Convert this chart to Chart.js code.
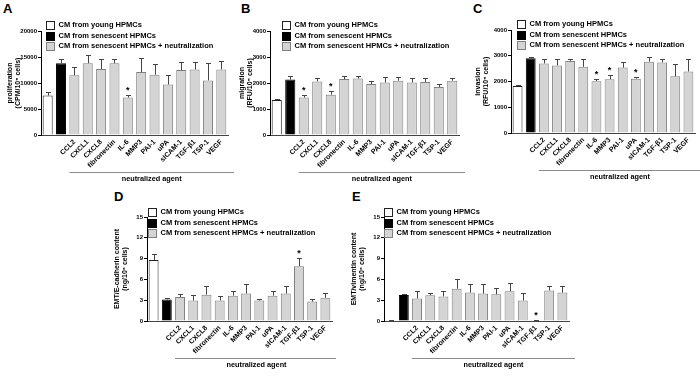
<!DOCTYPE html>
<html>
<head>
<meta charset="utf-8">
<script src="https://cdn.jsdelivr.net/npm/chart.js@4.4.1/dist/chart.umd.min.js"></script>
<style>
  html, body { margin: 0; padding: 0; background: #fff; }
  #fig { position: relative; width: 700px; height: 377px; overflow: hidden; font-family: 'Liberation Sans', Arial, sans-serif; }
  #fig canvas { position: absolute; }
  .tag { position: absolute; font-weight: bold; font-size: 13px; line-height: 1; color: #000; }
</style>
</head>
<body>
<div id="fig">
  <div class="tag" style="left:3px;top:2px">A</div>
  <div class="tag" style="left:241px;top:2px">B</div>
  <div class="tag" style="left:473px;top:2px">C</div>
  <div class="tag" style="left:114px;top:190px">D</div>
  <div class="tag" style="left:352px;top:190px">E</div>
  <canvas id="chart-a" width="236" height="185" style="left:0;top:0"></canvas>
  <canvas id="chart-b" width="234" height="185" style="left:236px;top:0"></canvas>
  <canvas id="chart-c" width="230" height="185" style="left:470px;top:0"></canvas>
  <canvas id="chart-d" width="236" height="192" style="left:100px;top:185px"></canvas>
  <canvas id="chart-e" width="240" height="192" style="left:336px;top:185px"></canvas>
</div>
<script>
/* ---------- Data ---------- */
var CATEGORIES = ['young', 'senescent', 'CCL2', 'CXCL1', 'CXCL8', 'fibronectin', 'IL-6', 'MMP3',
                  'PAI-1', 'uPA', 'sICAM-1', 'TGF-\u03B21', 'TSP-1', 'VEGF'];
var GROUP_LABELS = ['CM from young HPMCs', 'CM from senescent HPMCs', 'CM from senescent HPMCs + neutralization'];

var PROLIF_MEAN = [7600, 13800, 11500, 13800, 12700, 13800, 7200, 12100, 11600, 9700, 12500, 12600, 10500, 12600];
var PROLIF_ERR  = [600, 900, 1500, 1500, 2000, 900, 400, 2700, 2000, 1800, 1600, 1500, 3400, 1700];
var PROLIF_SIG  = ['IL-6'];

var MIGR_MEAN = [1350, 2130, 1440, 2060, 1550, 2150, 2170, 1960, 2020, 2090, 2020, 2040, 1850, 2090];
var MIGR_ERR  = [50, 150, 90, 140, 130, 120, 110, 100, 210, 160, 170, 160, 120, 100];
var MIGR_SIG  = ['CCL2', 'CXCL8'];

var INVAS_MEAN = [1830, 2900, 2700, 2620, 2800, 2570, 2010, 2090, 2540, 2110, 2770, 2740, 2200, 2390];
var INVAS_ERR  = [50, 50, 180, 260, 70, 310, 80, 160, 210, 50, 170, 140, 480, 500];
var INVAS_SIG  = ['IL-6', 'MMP3', 'uPA'];

var ECAD_MEAN = [8.8, 3.1, 3.45, 2.95, 3.8, 2.95, 3.65, 3.95, 2.95, 3.65, 3.95, 7.9, 2.8, 3.35];
var ECAD_ERR  = [0.8, 0.2, 0.45, 0.75, 1.3, 0.6, 0.7, 1.45, 0.25, 0.65, 1.15, 1.2, 0.4, 0.75];
var ECAD_SIG  = ['TGF-\u03B21'];

var VIM_MEAN = [0.08, 3.75, 3.25, 3.7, 3.55, 4.65, 4.1, 3.95, 3.85, 4.3, 2.95, 0.12, 4.4, 4.1];
var VIM_ERR  = [0.02, 0.2, 1.1, 0.4, 0.8, 1.45, 1.2, 1.35, 0.95, 1.2, 1.15, 0.02, 0.7, 0.9];
var VIM_SIG  = ['TGF-\u03B21'];

/* ---------- Styling ---------- */
var FONT = "'Liberation Sans', Arial, sans-serif";
var FILLS   = ['#ffffff', '#000000', '#d4d4d4'];
var BORDERS = ['#222222', '#000000', '#808080'];

Chart.defaults.font.family = FONT;
Chart.defaults.font.weight = 'bold';
Chart.defaults.color = '#000';

/* ---------- Plugins ---------- */
function topOf(chart, i) {
  var y = chart.scales.y;
  for (var d = 0; d < chart.data.datasets.length; d++) {
    var ds = chart.data.datasets[d];
    if (ds.data[i] != null) {
      var bar = chart.getDatasetMeta(d).data[i];
      return { x: bar.x, y: bar.y, top: y.getPixelForValue(ds.data[i] + ds.errors[i]) };
    }
  }
  return null;
}

var errorBars = {
  id: 'errorBars',
  afterDatasetsDraw: function (chart, args, opts) {
    var ctx = chart.ctx;
    ctx.save();
    ctx.strokeStyle = opts.color;
    ctx.lineWidth = 1;
    chart.data.labels.forEach(function (lab, i) {
      var p = topOf(chart, i);
      if (!p) return;
      var x = Math.round(p.x) + 0.5;
      var t = Math.round(p.top) + 0.5;
      ctx.beginPath();
      ctx.moveTo(x, p.y);
      ctx.lineTo(x, t);
      ctx.moveTo(x - opts.cap, t);
      ctx.lineTo(x + opts.cap, t);
      ctx.stroke();
    });
    // significance marks
    ctx.fillStyle = '#000';
    ctx.font = 'bold 9px ' + FONT;
    ctx.textAlign = 'center';
    ctx.textBaseline = 'alphabetic';
    (opts.sig || []).forEach(function (lab) {
      var p = topOf(chart, chart.data.labels.indexOf(lab));
      if (p) ctx.fillText('*', p.x, p.top - 2);
    });
    ctx.restore();
  }
};

var boxLegend = {
  id: 'boxLegend',
  afterDraw: function (chart, args, opts) {
    var ctx = chart.ctx, area = chart.chartArea;
    ctx.save();
    ctx.font = 'bold 7.5px ' + FONT;
    ctx.textBaseline = 'middle';
    ctx.textAlign = 'left';
    chart.data.datasets.forEach(function (ds, i) {
      var cy = area.top + opts.dy + i * opts.gap;
      var bx = Math.round(area.left + opts.dx) + 0.5;
      var by = Math.round(cy - opts.box / 2) + 0.5;
      ctx.fillStyle = ds.backgroundColor;
      ctx.fillRect(bx, by, opts.box, opts.box);
      ctx.strokeStyle = ds.borderColor;
      ctx.lineWidth = 1;
      ctx.strokeRect(bx, by, opts.box, opts.box);
      ctx.fillStyle = '#000';
      ctx.fillText(ds.label, bx + opts.box + 4, cy);
    });
    ctx.restore();
  }
};

var agentLine = {
  id: 'agentLine',
  afterDraw: function (chart, args, opts) {
    var ctx = chart.ctx, x = chart.scales.x, area = chart.chartArea;
    var x0 = x.getPixelForValue(2) - 5;
    var x1 = area.right + 6;
    var ly = Math.round(area.bottom + opts.lineY) + 0.5;
    ctx.save();
    ctx.strokeStyle = '#8a8a8a';
    ctx.lineWidth = 1;
    ctx.beginPath();
    ctx.moveTo(x0, ly);
    ctx.lineTo(x1, ly);
    ctx.stroke();
    ctx.fillStyle = '#000';
    ctx.font = 'bold 7.3px ' + FONT;
    ctx.textAlign = 'center';
    ctx.textBaseline = 'middle';
    ctx.fillText(opts.text, (x0 + x1) / 2, area.bottom + opts.textY);
    ctx.restore();
  }
};

/* ---------- Panels ---------- */
function splitGroups(values) {
  return [0, 1, 2].map(function (g) {
    return values.map(function (v, i) {
      var grp = i === 0 ? 0 : (i === 1 ? 1 : 2);
      return grp === g ? v : null;
    });
  });
}

function makePanel(id, p) {
  var groups = splitGroups(p.mean);
  var datasets = groups.map(function (data, g) {
    return {
      label: GROUP_LABELS[g],
      data: data,
      errors: p.err,
      backgroundColor: FILLS[g],
      borderColor: BORDERS[g],
      borderWidth: 1,
      grouped: false,
      categoryPercentage: 1,
      barPercentage: 0.75
    };
  });

  return new Chart(document.getElementById(id), {
    type: 'bar',
    data: { labels: CATEGORIES, datasets: datasets },
    plugins: [errorBars, boxLegend, agentLine],
    options: {
      responsive: false,
      animation: false,
      layout: { padding: p.pad },
      plugins: {
        legend: { display: false },
        tooltip: { enabled: false },
        errorBars: { color: '#444', cap: 2.5, sig: p.sig },
        boxLegend: { dx: p.legend[0], dy: p.legend[1], gap: 10.5, box: 8 },
        agentLine: { text: 'neutralized agent', lineY: 37, textY: 44 }
      },
      scales: {
        x: {
          offset: true,
          grid: { display: false, drawTicks: false },
          border: { color: '#444', width: 1 },
          ticks: {
            autoSkip: false, maxRotation: 45, minRotation: 45, padding: 3,
            font: { size: 7, weight: 'bold' }, color: '#000',
            callback: function (value, index) { return index < 2 ? '' : this.getLabelForValue(value); }
          },
          afterFit: function (scale) { scale.height = 36; }
        },
        y: {
          min: 0, max: p.max,
          grid: { drawOnChartArea: false, tickLength: 3, color: '#000' },
          border: { color: '#000', width: 1 },
          ticks: {
            stepSize: p.step, padding: 1, font: { size: 6, weight: 'bold' }, color: '#000',
            callback: function (value) { return String(value); }
          },
          title: { display: true, text: p.title, padding: 0, font: { size: 7, weight: 'bold', lineHeight: 1.15 }, color: '#000' },
          afterFit: function (scale) { scale.width = p.yWidth; }
        }
      }
    }
  });
}

makePanel('chart-a', { mean: PROLIF_MEAN, err: PROLIF_ERR, sig: PROLIF_SIG, max: 20000, step: 5000,
  title: ['proliferation', '(CPM/10\u2075 cells)'], yWidth: 35, legend: [5, -6],
  pad: { left: 6, top: 31, right: 8, bottom: 14 } });

makePanel('chart-b', { mean: MIGR_MEAN, err: MIGR_ERR, sig: MIGR_SIG, max: 4000, step: 1000,
  title: ['migration', '(RFU/10\u2075 cells)'], yWidth: 32, legend: [12, -6],
  pad: { left: 2, top: 31, right: 11, bottom: 14 } });

makePanel('chart-c', { mean: INVAS_MEAN, err: INVAS_ERR, sig: INVAS_SIG, max: 4000, step: 1000,
  title: ['invasion', '(RFU/10\u2075 cells)'], yWidth: 37, legend: [6, -6],
  pad: { left: 4, top: 30, right: 5, bottom: 16 } });

makePanel('chart-d', { mean: ECAD_MEAN, err: ECAD_ERR, sig: ECAD_SIG, max: 15, step: 3,
  title: ['EMT/E-cadherin content', '(ng/10\u2076 cells)'], yWidth: 34, legend: [1, -5],
  pad: { left: 13, top: 32, right: 4, bottom: 20 } });

makePanel('chart-e', { mean: VIM_MEAN, err: VIM_ERR, sig: VIM_SIG, max: 15, step: 3,
  title: ['EMT/vimentin content', '(ng/10\u2076 cells)'], yWidth: 34, legend: [0, -5],
  pad: { left: 14, top: 32, right: 7, bottom: 20 } });
</script>
</body>
</html>
